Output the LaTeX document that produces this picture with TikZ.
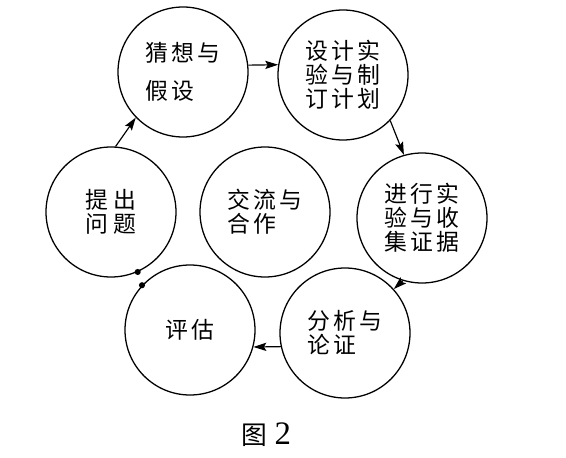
\documentclass[tikz,border=0pt]{standalone}
\usepackage{fontspec}
\newfontfamily\cjk[LetterSpace=14]{Noto Sans CJK SC}
\newfontfamily\capnum{Liberation Serif}
\usepackage{tikz}
\usetikzlibrary{arrows.meta, positioning}
\tikzset{
	stagecircle/.style={circle, draw, line width=1.1pt, minimum size=3.9cm, inner sep=0pt,
		align=left, font=\cjk\fontsize{19.5pt}{20.5pt}\selectfont}
}
\tikzset{
	flowarrow/.style={line width=1pt, -{Stealth[length=11pt, width=7pt, inset=2pt]}}
}

\begin{document}
\begin{tikzpicture}[x=0.03cm, y=-0.03cm]
  \useasboundingbox (0,0) rectangle (566,458);
  % the six stages
  \foreach \name/\x/\y/\txt in {guess/183/72/{猜想与\\[12pt]假设}, design/343/75/{设计实\\验与制\\订计划},
    ask/111/212/{提\hspace{0.2em}出\\问\hspace{0.2em}题}, share/265/212/{交流与\\合作}, collect/422/218/{进行实\\验与收\\集证据},
    judge/190/330/{评估}, analyze/345/333/{分析与\\论证}} {
    \node[stagecircle] (\name) at (\x,\y) {\txt};
  }
  \draw[flowarrow] (guess.6) -- (design.171);
  \draw[flowarrow] (design.-44) -- (collect.106);
  \draw[flowarrow] (collect.-107) -- (analyze.42);
  \draw[flowarrow] (analyze.192) -- (judge.-15);
  \draw[flowarrow] (ask.86) -- (guess.-136);
  \fill (ask.-66) circle (2.6pt);
  \fill (judge.137) circle (2.6pt);
  \node (caption) at (266,435) {\cjk\fontsize{22pt}{24pt}\selectfont 图\hspace{0.3em}\capnum\fontsize{28pt}{30pt}\selectfont 2};
\end{tikzpicture}
\end{document}
